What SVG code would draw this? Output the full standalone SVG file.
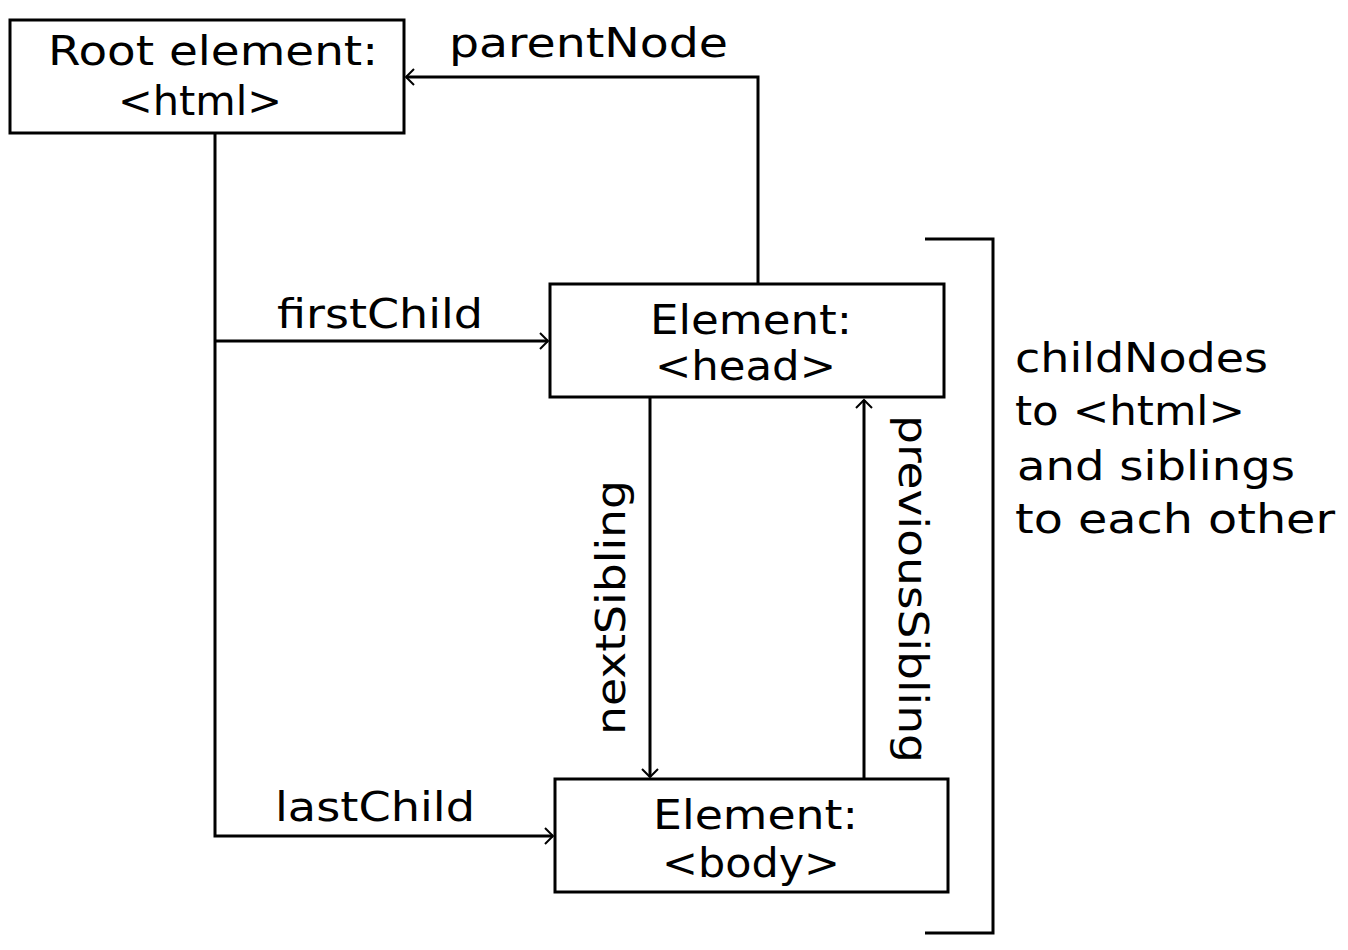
<svg xmlns="http://www.w3.org/2000/svg" width="1348" height="950" viewBox="0 0 1348 950">
  <style>
    .box { fill: #ffffff; stroke: #000000; stroke-width: 3; }
    .ln { fill: none; stroke: #000000; stroke-width: 3; }
    .t { font-family: "DejaVu Sans", "Liberation Sans", sans-serif; font-size: 40px; fill: #000000; }
  </style>
  <defs>
    <marker id="arr" markerUnits="userSpaceOnUse" markerWidth="14" markerHeight="20" refX="10" refY="9" orient="auto">
      <path d="M2,1 L10,9 L2,17" fill="none" stroke="#000000" stroke-width="2"/>
    </marker>
  </defs>
  <rect x="0" y="0" width="1348" height="950" fill="#ffffff"/>

  <g id="connectors">
    <polyline class="ln" points="758,284 758,77 406,77" marker-end="url(#arr)"/>
    <polyline class="ln" points="215,133 215,836 553,836" marker-end="url(#arr)"/>
    <line class="ln" x1="215" y1="341" x2="548" y2="341" marker-end="url(#arr)"/>
    <line class="ln" x1="650" y1="398" x2="650" y2="777" marker-end="url(#arr)"/>
    <line class="ln" x1="864" y1="779" x2="864" y2="400" marker-end="url(#arr)"/>
    <text class="t" x="449" y="57" textLength="279" lengthAdjust="spacingAndGlyphs">parentNode</text>
    <text class="t" x="277" y="328" textLength="206" lengthAdjust="spacingAndGlyphs">firstChild</text>
    <text class="t" x="275" y="821" textLength="200" lengthAdjust="spacingAndGlyphs">lastChild</text>
    <text class="t" transform="translate(625,735) rotate(-90)" x="0" y="0" textLength="255" lengthAdjust="spacingAndGlyphs">nextSibling</text>
    <text class="t" transform="translate(899,415) rotate(90)" x="0" y="0" textLength="348" lengthAdjust="spacingAndGlyphs">previousSibling</text>
  </g>

  <g id="root">
    <rect class="box" x="10" y="20" width="394" height="113"/>
    <text class="t" x="48" y="65" textLength="330" lengthAdjust="spacingAndGlyphs">Root element:</text>
    <text class="t" x="118" y="115" textLength="164" lengthAdjust="spacingAndGlyphs">&lt;html&gt;</text>
  </g>

  <g id="head">
    <rect class="box" x="550" y="284" width="394" height="113"/>
    <text class="t" x="650" y="334" textLength="202" lengthAdjust="spacingAndGlyphs">Element:</text>
    <text class="t" x="655" y="380" textLength="181" lengthAdjust="spacingAndGlyphs">&lt;head&gt;</text>
  </g>

  <g id="body">
    <rect class="box" x="555" y="779" width="393" height="113"/>
    <text class="t" x="653" y="829" textLength="205" lengthAdjust="spacingAndGlyphs">Element:</text>
    <text class="t" x="662" y="877" textLength="178" lengthAdjust="spacingAndGlyphs">&lt;body&gt;</text>
  </g>

  <g id="childNodes">
    <polyline class="ln" points="925,239 993,239 993,933 925,933"/>
    <text class="t" x="1015" y="372" textLength="253" lengthAdjust="spacingAndGlyphs">childNodes</text>
    <text class="t" x="1015" y="425" textLength="230" lengthAdjust="spacingAndGlyphs">to &lt;html&gt;</text>
    <text class="t" x="1017" y="480" textLength="278" lengthAdjust="spacingAndGlyphs">and siblings</text>
    <text class="t" x="1015" y="533" textLength="320" lengthAdjust="spacingAndGlyphs">to each other</text>
  </g>
</svg>
